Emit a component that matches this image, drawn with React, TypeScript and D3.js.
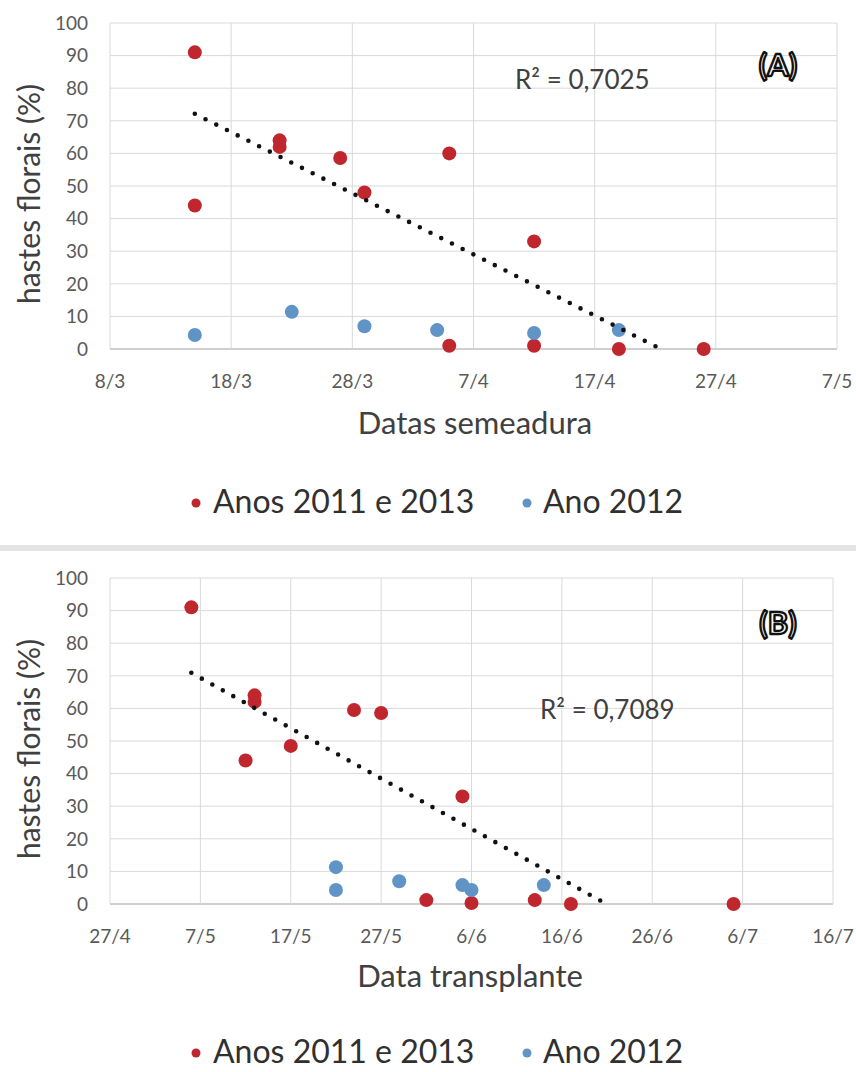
import React from "react";
import * as d3 from "d3";

const parseDay = d3.timeParse("%Y-%m-%d");
const fmtTick = d3.timeFormat("%-d/%-m");

// Panel A — sowing dates
const sowingTicks = ["2013-03-08", "2013-03-18", "2013-03-28", "2013-04-07", "2013-04-17", "2013-04-27", "2013-05-07"];
const sowingRedDates = ["2013-03-15", "2013-03-15", "2013-03-22", "2013-03-22", "2013-03-27", "2013-03-29", "2013-04-05", "2013-04-05", "2013-04-12", "2013-04-12", "2013-04-19", "2013-04-26"];
const sowingRedValues = [91, 44, 62, 64, 58.6, 48, 60, 1, 33, 1, 0, 0];
const sowingBlueDates = ["2013-03-15", "2013-03-23", "2013-03-29", "2013-04-04", "2013-04-12", "2013-04-19"];
const sowingBlueValues = [4.3, 11.4, 7, 5.8, 4.9, 5.8];

// Panel B — transplanting dates
const transTicks = ["2013-04-27", "2013-05-07", "2013-05-17", "2013-05-27", "2013-06-06", "2013-06-16", "2013-06-26", "2013-07-06", "2013-07-16"];
const transRedDates = ["2013-05-06", "2013-05-12", "2013-05-13", "2013-05-13", "2013-05-17", "2013-05-24", "2013-05-27", "2013-06-01", "2013-06-05", "2013-06-06", "2013-06-13", "2013-06-17", "2013-07-05"];
const transRedValues = [91, 44, 62, 64, 48.5, 59.5, 58.6, 1.2, 33, 0.3, 1.2, 0, 0];
const transBlueDates = ["2013-05-22", "2013-05-22", "2013-05-29", "2013-06-05", "2013-06-06", "2013-06-14"];
const transBlueValues = [11.3, 4.3, 7, 5.8, 4.3, 5.8];

const yTicks = [0, 10, 20, 30, 40, 50, 60, 70, 80, 90, 100];
const legendLabels = ["Anos 2011 e 2013", "Ano 2012"];

const RED = "#C0262D";
const BLUE = "#6194C6";
const FONT = "Lato, 'Open Sans', sans-serif";
const DAY = 86400000;

type PanelProps = {
  ticks: string[];
  redDates: string[];
  redValues: number[];
  blueDates: string[];
  blueValues: number[];
  x0: number;
  x1: number;
  yTop: number;
  yBottom: number;
  xTitle: string;
  xTitleX: number;
  xTitleY: number;
  r2: string;
  r2X: number;
  r2Y: number;
  tag: string;
  tagY: number;
  legendY: number;
};

function Panel(p: PanelProps) {
  const tickDates = p.ticks.map((t) => parseDay(t) as Date);
  const x = d3
    .scaleTime()
    .domain([tickDates[0], tickDates[tickDates.length - 1]])
    .range([p.x0, p.x1]);
  const y = d3.scaleLinear().domain([0, 100]).range([p.yBottom, p.yTop]);

  const red = p.redDates.map((d, i) => ({ date: parseDay(d) as Date, v: p.redValues[i] }));
  const blue = p.blueDates.map((d, i) => ({ date: parseDay(d) as Date, v: p.blueValues[i] }));

  // least-squares linear trend of the red series, clipped at y = 0
  const xs = red.map((d) => d.date.getTime() / DAY);
  const ys = red.map((d) => d.v);
  const mx = d3.mean(xs) as number;
  const my = d3.mean(ys) as number;
  const sxy = d3.sum(xs, (v, i) => (v - mx) * (ys[i] - my));
  const sxx = d3.sum(xs, (v) => (v - mx) * (v - mx));
  const slope = sxy / sxx;
  const icpt = my - slope * mx;
  const tStart = d3.min(xs) as number;
  const tZero = -icpt / slope;
  const tEnd = Math.min(d3.max(xs) as number, tZero);
  const trend: [number, number][] = [
    [x(new Date(tStart * DAY)), y(slope * tStart + icpt)],
    [x(new Date(tEnd * DAY)), y(Math.max(0, slope * tEnd + icpt))],
  ];
  const line = d3.line();

  return (
    <g>
      {/* horizontal gridlines */}
      {yTicks.map((t) => (
        <line key={"h" + t} x1={p.x0} x2={p.x1} y1={y(t)} y2={y(t)} stroke={t === 0 ? "#bfbfbf" : "#d9d9d9"} strokeWidth={t === 0 ? 1.6 : 1} />
      ))}
      {/* vertical gridlines */}
      {tickDates.map((d, i) => (
        <line key={"v" + i} x1={x(d)} x2={x(d)} y1={p.yTop} y2={p.yBottom} stroke="#d9d9d9" strokeWidth={1} />
      ))}
      {yTicks.map((t) => (
        <text key={"yl" + t} x={88} y={y(t)} dy="0.36em" textAnchor="end" fontSize={19} fill="#595959" fontFamily={FONT}>
          {t}
        </text>
      ))}
      {tickDates.map((d, i) => (
        <text key={"xl" + i} x={x(d)} y={p.yBottom + 32} dy="0.36em" textAnchor="middle" fontSize={19} fill="#595959" fontFamily={FONT}>
          {fmtTick(d)}
        </text>
      ))}
      <text
        transform={`translate(40,${(p.yTop + p.yBottom) / 2 + 8}) rotate(-90)`}
        textAnchor="middle"
        fontSize={30}
        fill="#404040"
        fontFamily={FONT}
      >
        hastes florais (%)
      </text>
      <text x={p.xTitleX} y={p.xTitleY} textAnchor="middle" fontSize={31} fill="#404040" fontFamily={FONT}>
        {p.xTitle}
      </text>

      {red.map((d, i) => (
        <circle key={"r" + i} cx={x(d.date)} cy={y(d.v)} r={7} fill={RED} />
      ))}
      {blue.map((d, i) => (
        <circle key={"b" + i} cx={x(d.date)} cy={y(d.v)} r={7} fill={BLUE} />
      ))}
      <path d={line(trend) as string} fill="none" stroke="#111" strokeWidth={4.6} strokeDasharray="0 12" strokeLinecap="round" />

      <text x={p.r2X} y={p.r2Y} fontSize={26} fill="#404040" fontFamily={FONT}>
        R² = {p.r2}
      </text>
      {/* outlined panel tag */}
      <text x={778} y={p.tagY} dy="0.36em" textAnchor="middle" fontSize={31} fontWeight={700} fill="#fff" stroke="#111" strokeWidth={2.3} strokeLinejoin="round" fontFamily={FONT}>
        {p.tag}
      </text>

      {/* legend */}
      <circle cx={196} cy={p.legendY - 10} r={4.5} fill={RED} />
      <text x={213} y={p.legendY} fontSize={32} fill="#303030" fontFamily={FONT}>
        {legendLabels[0]}
      </text>
      <circle cx={527} cy={p.legendY - 10} r={4.5} fill={BLUE} />
      <text x={543} y={p.legendY} fontSize={32} fill="#303030" fontFamily={FONT}>
        {legendLabels[1]}
      </text>
    </g>
  );
}

export default function App() {
  return (
    <svg width={856} height={1072} style={{ display: "block", position: "absolute", left: 0, top: 0, background: "#fff" }}>
      <rect x={0} y={0} width={856} height={1072} fill="#fff" />
      <Panel
        ticks={sowingTicks}
        redDates={sowingRedDates}
        redValues={sowingRedValues}
        blueDates={sowingBlueDates}
        blueValues={sowingBlueValues}
        x0={110}
        x1={837}
        yTop={23}
        yBottom={349}
        xTitle="Datas semeadura"
        xTitleX={475}
        xTitleY={434}
        r2="0,7025"
        r2X={515}
        r2Y={89}
        tag="(A)"
        tagY={65}
        legendY={513}
      />
      <rect x={0} y={545} width={856} height={6} fill="#e4e4e4" />
      <Panel
        ticks={transTicks}
        redDates={transRedDates}
        redValues={transRedValues}
        blueDates={transBlueDates}
        blueValues={transBlueValues}
        x0={110}
        x1={833}
        yTop={578}
        yBottom={904}
        xTitle="Data transplante"
        xTitleX={470}
        xTitleY={987}
        r2="0,7089"
        r2X={540}
        r2Y={719}
        tag="(B)"
        tagY={623}
        legendY={1063}
      />
    </svg>
  );
}
